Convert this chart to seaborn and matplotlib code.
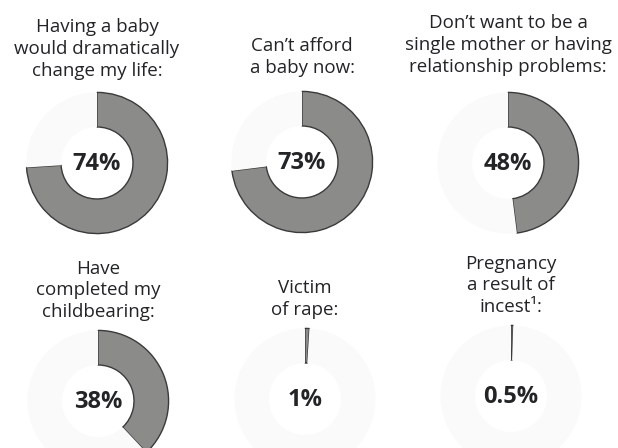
import matplotlib
matplotlib.use("Agg")
import matplotlib.pyplot as plt
import seaborn as sns

# reasons for abortion, share of respondents (%)
reasons = [
    "Having a baby\nwould dramatically\nchange my life:",
    "Can\u2019t afford\na baby now:",
    "Don\u2019t want to be a\nsingle mother or having\nrelationship problems:",
    "Have\ncompleted my\nchildbearing:",
    "Victim\nof rape:",
    "Pregnancy\na result of\nincest\u00b9:",
]
shares = [74, 73, 48, 38, 1, 0.5]

# layout (pixels from top-left of a 618x448 canvas)
W, H = 618, 448
R = 72
centers = [(97, 163), (302, 162), (508, 163), (98, 401), (305, 399), (511, 396)]
title_y = [49, 57, 45, 290, 299, 285]

sns.set_style("white")
plt.rcParams["font.family"] = ["Open Sans", "DejaVu Sans"]

fig = plt.figure(figsize=(W / 100, H / 100), dpi=100)
fig.patch.set_facecolor("white")

ring_color = "#8b8b89"
rest_color = "#fafafa"
edge_color = "#3a3a3a"
text_color = "#222426"

for label, val, (cx, cy), ty in zip(reasons, shares, centers, title_y):
    ax = fig.add_axes([(cx - R) / W, 1 - (cy + R) / H, 2 * R / W, 2 * R / H])
    wedges, _ = ax.pie(
        [val, 100 - val],
        colors=[ring_color, rest_color],
        startangle=90,
        counterclock=False,
        radius=1,
        wedgeprops=dict(width=0.49, linewidth=0),
    )
    wedges[0].set_edgecolor(edge_color)
    wedges[0].set_linewidth(1.0)
    ax.set_xlim(-1.02, 1.02)
    ax.set_ylim(-1.02, 1.02)
    ax.set_aspect("equal")
    ax.axis("off")
    ax.text(0, -0.02, f"{val:g}%", ha="center", va="center",
            fontsize=17, fontweight="bold", color=text_color)

    fig.text(cx / W, 1 - ty / H, label, ha="center", va="center",
             multialignment="center", fontsize=13.5, color=text_color,
             linespacing=1.25)

fig.savefig("out.png", dpi=100, facecolor="white")
